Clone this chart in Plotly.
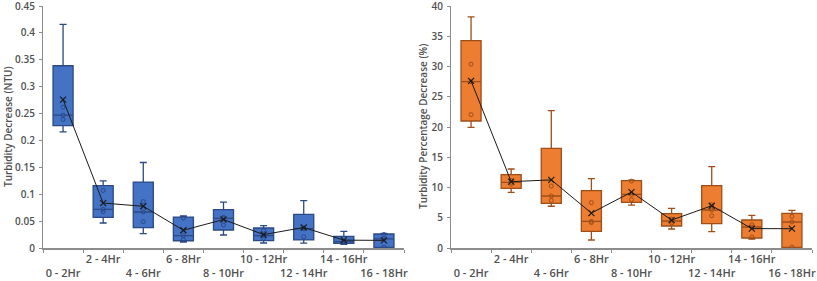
import numpy as np
import plotly.graph_objects as go
from plotly.subplots import make_subplots

categories = ["0 - 2Hr", "2 - 4Hr", "4 - 6Hr", "6 - 8Hr", "8 - 10Hr",
              "10 - 12Hr", "12 - 14Hr", "14 - 16Hr", "16 - 18Hr"]

# Turbidity decrease (NTU), five readings per interval
ntu_0_2 = [0.216, 0.239, 0.247, 0.262, 0.416]
ntu_2_4 = [0.0465, 0.0675, 0.072, 0.107, 0.125]
ntu_4_6 = [0.0266, 0.049, 0.067, 0.0864, 0.159]
ntu_6_8 = [0.011, 0.016, 0.023, 0.0557, 0.0595]
ntu_8_10 = [0.0242, 0.0428, 0.0552, 0.0571, 0.0855]
ntu_10_12 = [0.0093, 0.0179, 0.023, 0.0329, 0.0415]
ntu_12_14 = [0.009, 0.021, 0.036, 0.037, 0.088]
ntu_14_16 = [0.007, 0.0104, 0.012, 0.0126, 0.031]
ntu_16_18 = [0.0005, 0.0015, 0.017, 0.025, 0.027]

# Turbidity percentage decrease (%)
pct_0_2 = [19.95, 22.05, 27.5, 30.4, 38.2]
pct_2_4 = [9.2, 10.54, 10.86, 11.18, 13.06]
pct_4_6 = [6.9, 7.86, 8.6, 10.24, 22.7]
pct_6_8 = [1.32, 4.2, 4.4, 7.5, 11.46]
pct_8_10 = [7.1, 8.0, 8.87, 11.06, 11.2]
pct_10_12 = [3.14, 4.14, 4.46, 4.78, 6.56]
pct_12_14 = [2.7, 5.34, 6.28, 7.16, 13.44]
pct_14_16 = [1.49, 1.81, 3.47, 3.86, 5.4]
pct_16_18 = [0.05, 0.15, 4.3, 5.23, 6.23]

ntu_groups = [ntu_0_2, ntu_2_4, ntu_4_6, ntu_6_8, ntu_8_10,
              ntu_10_12, ntu_12_14, ntu_14_16, ntu_16_18]
pct_groups = [pct_0_2, pct_2_4, pct_4_6, pct_6_8, pct_8_10,
              pct_10_12, pct_12_14, pct_14_16, pct_16_18]

W, H = 817, 281
FONT = dict(family="Open Sans", size=10, color="#505050", weight=600)
XFONT = dict(family="Open Sans", size=11, color="#505050", weight=600)
AXIS_COL = "#8c8c8c"

fig = make_subplots(rows=1, cols=2)


def add_panel(groups, col, fill, edge):
    for cat, vals in zip(categories, groups):
        fig.add_trace(go.Box(
            y=vals, x=[cat] * len(vals), name=cat,
            quartilemethod="exclusive", boxpoints=False,
            fillcolor=fill, line=dict(color=edge, width=1.3),
            width=0.5, whiskerwidth=0.35, showlegend=False,
        ), row=1, col=col)
        inner = sorted(vals)[1:-1]
        fig.add_trace(go.Scatter(
            x=[cat] * len(inner), y=inner, mode="markers",
            marker=dict(symbol="circle-open", size=4, color=edge,
                        line=dict(width=1)),
            showlegend=False, hoverinfo="skip",
        ), row=1, col=col)
    means = [float(np.mean(v)) for v in groups]
    fig.add_trace(go.Scatter(
        x=categories, y=means, mode="lines+markers",
        line=dict(color="#1a1a1a", width=1),
        marker=dict(symbol="x-thin", size=6, color="#1a1a1a",
                    line=dict(width=1.2, color="#1a1a1a")),
        showlegend=False,
    ), row=1, col=col)


add_panel(ntu_groups, 1, "#4472C4", "#2B4A86")
add_panel(pct_groups, 2, "#ED7D31", "#9E4E19")

ticktext = [("<br>" + c) if i % 2 == 0 else c for i, c in enumerate(categories)]

ydom = [1 - 248 / H, 1 - 6 / H]
xcommon = dict(type="category", categoryorder="array", categoryarray=categories,
               tickmode="array", tickvals=categories, ticktext=ticktext,
               tickangle=0, automargin=False,
               tickson="boundaries", ticks="outside", ticklen=3,
               tickcolor=AXIS_COL, showline=True, linecolor=AXIS_COL,
               linewidth=1.5, showgrid=False, zeroline=False,
               tickfont=XFONT, range=[-0.5, 8.5], ticklabeloverflow="allow")
ycommon = dict(ticks="outside", ticklen=3, tickcolor=AXIS_COL, showline=True,
               linecolor=AXIS_COL, linewidth=1, showgrid=False, automargin=False,
               zeroline=False, tickfont=FONT, ticklabelstandoff=2,
               ticklabeloverflow="allow")

fig.update_layout(
    width=W, height=H, margin=dict(l=0, r=0, t=0, b=0),
    plot_bgcolor="white", paper_bgcolor="white", showlegend=False,
    font=FONT,
    xaxis=dict(domain=[43 / W, 404 / W], **xcommon),
    xaxis2=dict(domain=[451 / W, 812 / W], **xcommon),
    yaxis=dict(domain=ydom, range=[0, 0.4501], tick0=0, dtick=0.05, **ycommon),
    yaxis2=dict(domain=ydom, range=[0, 40.01], tick0=0, dtick=5, **ycommon),
    annotations=[
        dict(text="Turbidity Decrease (NTU)", xref="paper", yref="paper",
             x=8 / W, y=1 - 127 / H, textangle=-90, showarrow=False,
             font=FONT, xanchor="center", yanchor="middle"),
        dict(text="Turbidity Percentage Decrease (%)", xref="paper", yref="paper",
             x=423 / W, y=1 - 127 / H, textangle=-90, showarrow=False,
             font=FONT, xanchor="center", yanchor="middle"),
    ],
)

fig.write_html("out.html",
               config={"displayModeBar": False},
               post_script="document.body.style.margin='0px';"
                           "document.body.style.overflow='hidden';")
